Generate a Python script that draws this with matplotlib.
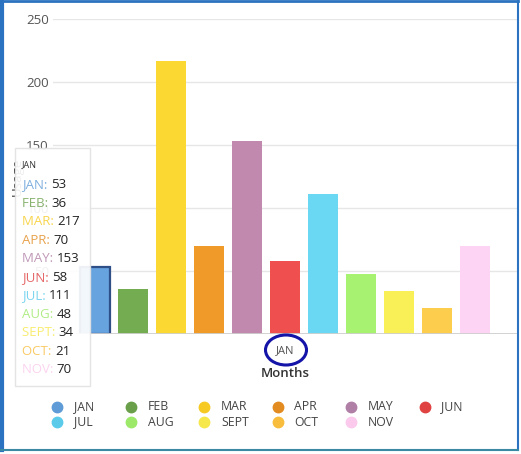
import numpy as np
import matplotlib.pyplot as plt
from matplotlib.patches import Rectangle, Ellipse

plt.rcParams['font.family'] = ['Open Sans', 'DejaVu Sans']

months = ["JAN", "FEB", "MAR", "APR", "MAY", "JUN", "JUL", "AUG", "SEPT", "OCT", "NOV"]
values = [53, 36, 217, 70, 153, 58, 111, 48, 34, 21, 70]
bar_colors = ["#67a3de", "#74ad51", "#fbd932", "#f09a2a", "#c189ae", "#ef4f4f",
              "#6bd8f3", "#a7f270", "#f9ef56", "#fdcd4d", "#fdd4f3"]
legend_colors = ["#5f9bd6", "#6a9f4a", "#f6ca22", "#e28b20", "#b07fa6", "#e04242",
                 "#5ccbea", "#9ce868", "#f6e84a", "#f8bd3d", "#fbc9ec"]
category = "JAN"

W, H = 521, 454
fig = plt.figure(figsize=(W / 100, H / 100), dpi=100)
ax = fig.add_axes([53 / W, 1 - 334 / H, 464 / W, 315 / H])

slot = 0.0817
width = 0.0647
n = len(months)
for i, (m, v, c) in enumerate(zip(months, values, bar_colors)):
    x = (i - (n - 1) / 2) * slot
    if i == 0:
        # hovered bar
        ax.bar(x, v, width=width, color=c, edgecolor="#2f4f88", linewidth=1.6, zorder=3)
    else:
        ax.bar(x, v, width=width, color=c, zorder=3)

ax.set_xlim(-0.5, 0.5)
ax.set_ylim(0, 250)
ax.set_yticks([0, 50, 100, 150, 200, 250])
ax.set_yticklabels(["", "50", "100", "150", "200", "250"])
ax.set_xticks([0])
ax.set_xticklabels([category])
ax.tick_params(axis="y", length=0, pad=3, labelsize=9.5, labelcolor="#555555")
ax.tick_params(axis="x", length=0, pad=8, labelsize=8, labelcolor="#555555")
ax.grid(True, axis="y", color="#e6e6e6", linewidth=1, zorder=0)
for s in ax.spines.values():
    s.set_visible(False)
ax.axhline(0, color="#cfcfcf", linewidth=2, zorder=4)
ax.set_xlabel("Months", fontsize=9.5, color="#333333", fontweight="semibold", labelpad=8)
ax.set_ylabel("Usage", fontsize=9.5, color="#333333", labelpad=2)

# overlay in pixel coordinates
ov = fig.add_axes([0, 0, 1, 1], facecolor="none")
ov.set_xlim(0, W)
ov.set_ylim(H, 0)
ov.axis("off")

# tooltip
ov.add_patch(Rectangle((15, 148), 75, 238, facecolor="white", alpha=0.92,
                       edgecolor="#e2e2e2", linewidth=1, zorder=5))
ov.text(22, 165, category, fontsize=6.5, color="#333333", va="center", zorder=6)
for i, (m, v, c) in enumerate(zip(months, values, legend_colors)):
    y = 185 + i * 18.45
    t = ov.text(22, y, m + ": ", fontsize=9.5, color=c, alpha=0.8, va="center", zorder=6)
    ov.annotate(str(v), xy=(1, 0), xycoords=t, va="bottom", ha="left",
                fontsize=9.5, color="#222222", zorder=6)

# legend
for i, (m, c) in enumerate(zip(months, legend_colors)):
    col, row = i % 6, i // 6
    x = 57 + col * 73.5
    y = 407 + row * 15
    ov.plot(x, y, "o", markersize=7.5, color=c, zorder=6)
    ov.text(x + 17, y, m, fontsize=8.8, color="#444444", va="center", zorder=6)

# hand drawn circle around the tick label
ov.add_patch(Ellipse((286, 350), 41, 30, fill=False, edgecolor="#1414a8",
                     linewidth=2.2, zorder=6))

# screenshot frame
ov.plot([1.5, 1.5], [0, 450], color="#2b72c0", linewidth=3, zorder=7)
ov.plot([0, 518], [1, 1], color="#2b72c0", linewidth=2, zorder=7)
ov.plot([517.5, 517.5], [0, 450], color="#2b72c0", linewidth=1.5, zorder=7)
ov.plot([0, 518], [449.5, 449.5], color="#3a8aa3", linewidth=1.5, zorder=7)

fig.savefig("out.png", dpi=100)
